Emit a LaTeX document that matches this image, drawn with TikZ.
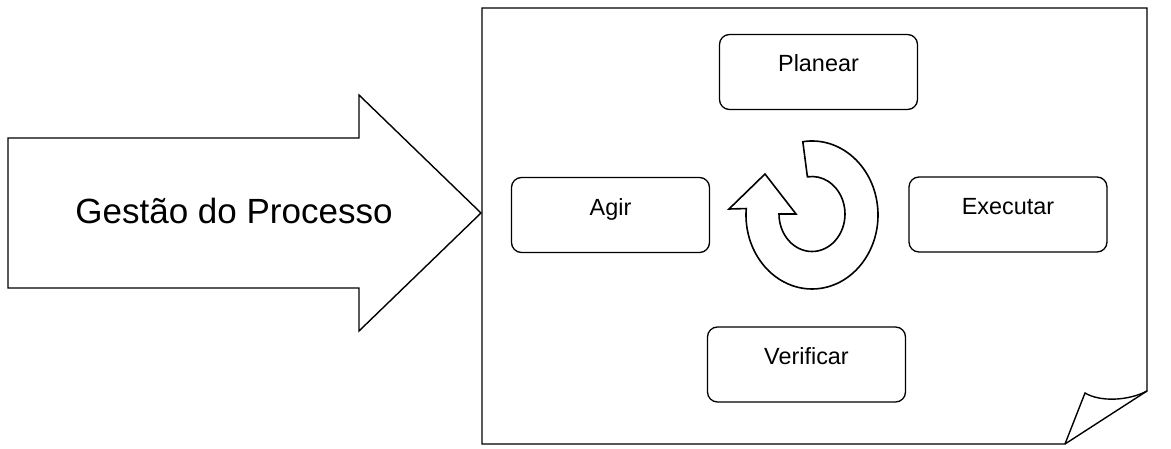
\documentclass[tikz,border=0pt]{standalone}
\usepackage{fontspec}
\setmainfont{Liberation Sans}
\begin{document}
\begin{tikzpicture}[x=1pt,y=1pt,
  outline/.style={draw=black, line width=1.4pt, line join=miter, fill=white},
  stage/.style={draw=black, line width=1.3pt, rounded corners=10pt, fill=white,
    inner sep=0pt, text height=37.5pt, text depth=37.5pt, minimum width=198pt,
    font=\fontsize{23.4}{28}\selectfont},
  bigtext/.style={font=\fontsize{35}{42}\selectfont, anchor=base}]
\useasboundingbox (0,0) rectangle (1171,448);
% big arrow
\draw[outline] (8,310) -- (359,310) -- (359,353) -- (481,235) -- (359,117) -- (359,160) -- (8,160) -- cycle;
\node[bigtext] (title) at (234,225) {Gestão do Processo};
% page
\draw[outline] (482,440) -- (1147,440) -- (1147,57) -- (1065,4) -- (482,4) -- cycle;
\draw[outline, fill=none] (1065,4) -- (1085,55) .. controls (1100,46) and (1128,47) .. (1147,57);
% stages
\node[stage] (plan) at (818.5,376) {Planear};
\node[stage] (act) at (610.5,233) {Agir};
\node[stage] (exec) at (1008,233.5) {Executar};
\node[stage] (check) at (806.5,83.5) {Verificar};
% circular arrow
\draw[draw=black, fill=white, line width=1.6pt, line join=miter]
  (812,233) ++(98:66 and 74)
  arc[start angle=98, end angle=-185, x radius=66, y radius=74]
  -- (729,239) -- (765,274) -- (796,234) -- (779,234)
  arc[start angle=180, end angle=458, x radius=33, y radius=37.5]
  -- cycle;
\end{tikzpicture}
\end{document}
